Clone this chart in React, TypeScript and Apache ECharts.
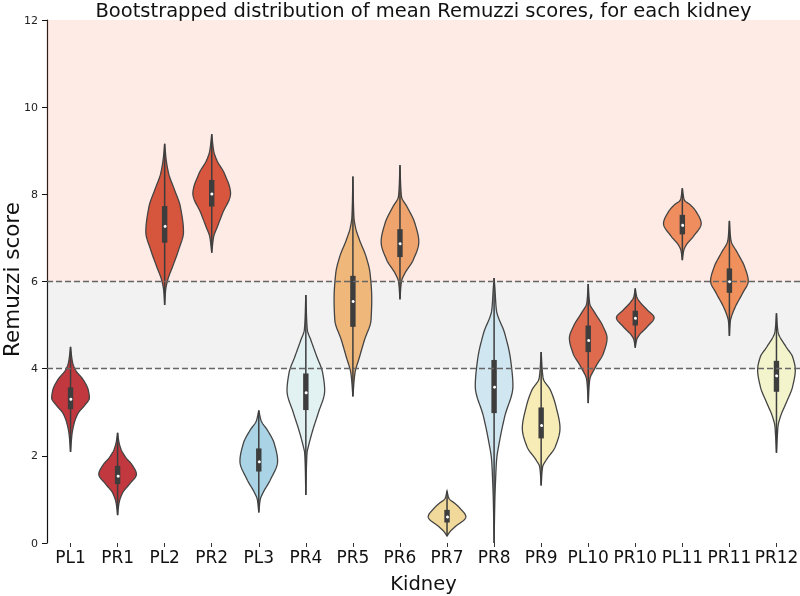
import React, { useEffect, useRef } from "react";
import * as echarts from "echarts";

const kidneys = ["PL1", "PR1", "PL2", "PR2", "PL3", "PR4", "PR5", "PR6", "PR7", "PR8", "PR9", "PL10", "PR10", "PL11", "PR11", "PR12"];
const whiskerLow = [2.09, 0.64, 5.46, 6.66, 0.7, 1.1, 3.36, 5.59, 0.16, 0.0, 1.32, 3.21, 4.48, 6.49, 4.75, 2.07];
const quartile1 = [3.07, 1.35, 6.89, 7.72, 1.64, 3.05, 4.96, 6.56, 0.47, 2.98, 2.4, 4.38, 4.99, 7.08, 5.74, 3.47];
const medians = [3.32, 1.56, 7.29, 8.02, 1.89, 3.47, 5.56, 6.88, 0.62, 3.6, 2.72, 4.67, 5.17, 7.31, 6.01, 3.85];
const quartile3 = [3.57, 1.77, 7.73, 8.33, 2.17, 3.89, 6.13, 7.2, 0.76, 4.2, 3.11, 4.99, 5.33, 7.53, 6.3, 4.18];
const whiskerHigh = [4.5, 2.53, 9.16, 9.38, 3.04, 5.69, 8.41, 8.67, 1.19, 6.08, 4.38, 5.94, 5.84, 8.14, 7.39, 5.27];

// density profiles: [score, relative density]
const densityPL1 = [[2.09, 0], [2.5, 1.5], [2.75, 3.7], [2.98, 7.7], [3.15, 14], [3.33, 19], [3.5, 18], [3.74, 13], [3.97, 5], [4.15, 2], [4.5, 0]];
const densityPR1 = [[0.64, 0], [0.92, 1.5], [1.15, 5], [1.35, 12], [1.58, 19], [1.78, 15], [1.97, 8], [2.15, 3.5], [2.3, 1.5], [2.53, 0]];
const densityPL2 = [[5.46, 0], [5.8, 1], [6.03, 3], [6.34, 8], [6.72, 14], [7.14, 19], [7.72, 15.8], [8.1, 10], [8.48, 4], [8.8, 1.5], [9.16, 0]];
const densityPR2 = [[6.66, 0], [7.03, 2], [7.26, 5.8], [7.56, 10.8], [8.02, 19], [8.48, 12.8], [8.79, 5], [9.0, 2], [9.38, 0]];
const densityPL3 = [[0.7, 0], [1.0, 1.5], [1.14, 4], [1.45, 11.7], [1.88, 19], [2.29, 15.5], [2.59, 8.7], [2.8, 2.5], [3.04, 0]];
const densityPR4 = [[1.1, 0], [2.07, 1.2], [2.21, 2.5], [2.59, 7], [2.98, 12.5], [3.5, 19], [3.9, 17], [4.28, 11], [4.66, 5], [4.89, 1.5], [5.69, 0]];
const densityPR5 = [[3.36, 0], [3.89, 2], [4.27, 6.7], [4.66, 11.7], [5.12, 18.3], [5.6, 19], [6.19, 17.3], [6.57, 13.3], [6.95, 6.7], [7.25, 2.5], [7.49, 1], [8.41, 0]];
const densityPR6 = [[5.59, 0], [6.0, 1.5], [6.19, 5], [6.49, 13.3], [6.91, 19], [7.34, 15], [7.72, 7], [7.95, 1.5], [8.67, 0]];
const densityPR7 = [[0.16, 0], [0.26, 3], [0.37, 8], [0.6, 19], [0.8, 13], [0.91, 7.8], [1.02, 2], [1.19, 0]];
const densityPR8 = [[0, 0], [1.0, 0.8], [1.45, 1.5], [1.9, 2.5], [2.36, 5.7], [2.9, 10.7], [3.6, 19], [4.2, 16.7], [4.81, 10.7], [5.35, 2.3], [5.85, 0.8], [6.08, 0]];
const densityPR9 = [[1.32, 0], [1.75, 1.5], [1.9, 5], [2.21, 14.3], [2.63, 19], [3.13, 15], [3.51, 9.3], [3.78, 2], [4.38, 0]];
const densityPL10 = [[3.21, 0], [3.74, 1.5], [4.05, 7.7], [4.35, 15.3], [4.7, 19], [5.0, 14.3], [5.27, 7], [5.5, 1.5], [5.94, 0]];
const densityPR10 = [[4.48, 0], [4.67, 1.5], [4.77, 4], [4.96, 12], [5.17, 19], [5.35, 12], [5.5, 5.7], [5.65, 1.5], [5.84, 0]];
const densityPL11 = [[6.49, 0], [6.72, 1.5], [6.84, 4], [7.03, 11], [7.33, 19], [7.6, 14], [7.76, 8], [7.87, 2], [8.14, 0]];
const densityPR11 = [[4.75, 0], [5.1, 1], [5.19, 2], [5.42, 6], [5.73, 13.3], [6.01, 19], [6.34, 15.3], [6.65, 8.3], [6.95, 1.5], [7.39, 0]];
const densityPR12 = [[2.07, 0], [2.5, 1], [2.67, 1.5], [2.9, 4], [3.21, 9.7], [3.59, 16.3], [3.97, 19], [4.27, 16.3], [4.5, 9.7], [4.85, 1.5], [5.27, 0]];

const densities = [densityPL1, densityPR1, densityPL2, densityPR2, densityPL3, densityPR4, densityPR5, densityPR6, densityPR7, densityPR8, densityPR9, densityPL10, densityPR10, densityPL11, densityPR11, densityPR12];

const violinColors = ["#c1393f", "#c1393f", "#d6553d", "#d8563d", "#aad4e6", "#e2f1f2", "#f0b77b", "#eea46c", "#f1d89b", "#d0e6f0", "#f7ecb5", "#df6b4f", "#dc6549", "#ef8d5e", "#f0905c", "#f3f4cc"];

const FONT = "DejaVu Sans";

function pchip(pts: number[][]) {
  const n = pts.length;
  const xs = pts.map((p) => p[0]);
  const ys = pts.map((p) => p[1]);
  const h: number[] = [];
  const d: number[] = [];
  for (let i = 0; i < n - 1; i++) {
    h.push(xs[i + 1] - xs[i]);
    d.push((ys[i + 1] - ys[i]) / (xs[i + 1] - xs[i]));
  }
  const m: number[] = new Array(n).fill(0);
  m[0] = d[0];
  m[n - 1] = d[n - 2];
  for (let i = 1; i < n - 1; i++) {
    if (d[i - 1] * d[i] <= 0) m[i] = 0;
    else {
      const w1 = 2 * h[i] + h[i - 1];
      const w2 = h[i] + 2 * h[i - 1];
      m[i] = (w1 + w2) / (w1 / d[i - 1] + w2 / d[i]);
    }
  }
  return (x: number) => {
    if (x <= xs[0]) return ys[0];
    if (x >= xs[n - 1]) return ys[n - 1];
    let k = 0;
    while (k < n - 2 && x > xs[k + 1]) k++;
    const t = (x - xs[k]) / h[k];
    const t2 = t * t;
    const t3 = t2 * t;
    const v =
      (2 * t3 - 3 * t2 + 1) * ys[k] +
      (t3 - 2 * t2 + t) * h[k] * m[k] +
      (-2 * t3 + 3 * t2) * ys[k + 1] +
      (t3 - t2) * h[k] * m[k + 1];
    return Math.max(0, v);
  };
}

export default function App() {
  const ref = useRef<HTMLDivElement>(null);
  useEffect(() => {
    if (!ref.current) return;
    const chart = echarts.init(ref.current, undefined, { renderer: "svg" });
    const data = kidneys.map((k, i) => [i, whiskerLow[i], quartile1[i], medians[i], quartile3[i], whiskerHigh[i]]);
    const renderItem = (params: any, api: any) => {
      const i = api.value(0);
      const lo = api.value(1);
      const q1 = api.value(2);
      const med = api.value(3);
      const q3 = api.value(4);
      const hi = api.value(5);
      const prof = densities[i];
      const f = pchip(prof);
      const maxD = Math.max(...prof.map((p) => p[1]));
      const band = api.size([1, 0])[0];
      const half = band * 0.4;
      const cx = api.coord([i, 0])[0];
      const start = prof[0][0];
      const end = prof[prof.length - 1][0];
      const N = 120;
      const right: number[][] = [];
      for (let s = 0; s <= N; s++) {
        const v = start + ((end - start) * s) / N;
        const w = (f(v) / maxD) * half;
        right.push([cx + w, api.coord([i, v])[1]]);
      }
      const left = right.map((p) => [2 * cx - p[0], p[1]]).reverse();
      const points = right.concat(left);
      const yLo = api.coord([i, lo])[1];
      const yHi = api.coord([i, hi])[1];
      const yQ1 = api.coord([i, q1])[1];
      const yQ3 = api.coord([i, q3])[1];
      const yMed = api.coord([i, med])[1];
      return {
        type: "group",
        children: [
          { type: "polygon", shape: { points }, style: { fill: violinColors[i], stroke: "#444444", lineWidth: 1.3 } },
          { type: "line", shape: { x1: cx, y1: yLo, x2: cx, y2: yHi }, style: { stroke: "#3d3d3d", lineWidth: 1.5 } },
          { type: "rect", shape: { x: cx - 2.7, y: yQ3, width: 5.4, height: yQ1 - yQ3 }, style: { fill: "#3d3d3d" } },
          { type: "circle", shape: { cx, cy: yMed, r: 1.5 }, style: { fill: "#ffffff" } },
        ],
      };
    };
    chart.setOption({
      animation: false,
      textStyle: { fontFamily: FONT },
      grid: { left: 47, right: 0, top: 20, bottom: 53, containLabel: false, outerBoundsMode: "none" },
      graphic: [
        {
          type: "text",
          x: 423.5,
          y: 0,
          style: {
            text: "Bootstrapped distribution of mean Remuzzi scores, for each kidney",
            align: "center",
            verticalAlign: "top",
            fontFamily: FONT,
            fontSize: 19.5,
            fill: "#111",
          },
        },
        {
          type: "text",
          x: 11,
          y: 279.5,
          rotation: Math.PI / 2,
          style: {
            text: "Remuzzi score",
            align: "center",
            verticalAlign: "middle",
            fontFamily: FONT,
            fontSize: 21.5,
            fill: "#111",
          },
        },
        {
          type: "text",
          x: 423.5,
          y: 583.5,
          style: {
            text: "Kidney",
            align: "center",
            verticalAlign: "middle",
            fontFamily: FONT,
            fontSize: 19.5,
            fill: "#111",
          },
        },
      ],
      xAxis: {
        type: "category",
        data: kidneys,
        axisLine: { show: false },
        axisTick: { show: true, alignWithLabel: true, length: 4, lineStyle: { color: "#333" } },
        axisLabel: { fontFamily: FONT, fontSize: 17, color: "#111", margin: 5, interval: 0 },
        splitLine: { show: false },
      },
      yAxis: {
        type: "value",
        min: 0,
        max: 12,
        interval: 2,
        axisLine: { show: true, lineStyle: { color: "#111", width: 1.2 } },
        axisTick: { show: true, length: 5, lineStyle: { color: "#111" } },
        axisLabel: { fontFamily: FONT, fontSize: 11, color: "#222", margin: 9 },
        splitLine: { show: false },
      },
      series: [
        {
          type: "custom",
          renderItem,
          data,
          encode: { x: 0, y: [1, 5] },
          z: 2,
          clip: false,
        },
        {
          type: "line",
          data: [],
          z: 10,
          silent: true,
          markArea: {
            silent: true,
            data: [
              [{ yAxis: 6, itemStyle: { color: "rgba(250,110,80,0.14)" } }, { yAxis: 12 }],
              [{ yAxis: 4, itemStyle: { color: "rgba(128,128,128,0.1)" } }, { yAxis: 6 }],
            ],
          },
          markLine: {
            silent: true,
            symbol: ["none", "none"],
            label: { show: false },
            lineStyle: { type: [6, 3], color: "#666", width: 1.3 },
            data: [{ yAxis: 4 }, { yAxis: 6 }],
          },
        },
      ],
    });
    return () => chart.dispose();
  }, []);
  return <div ref={ref} style={{ position: "fixed", left: 0, top: 0, width: 800, height: 596 }} />;
}
